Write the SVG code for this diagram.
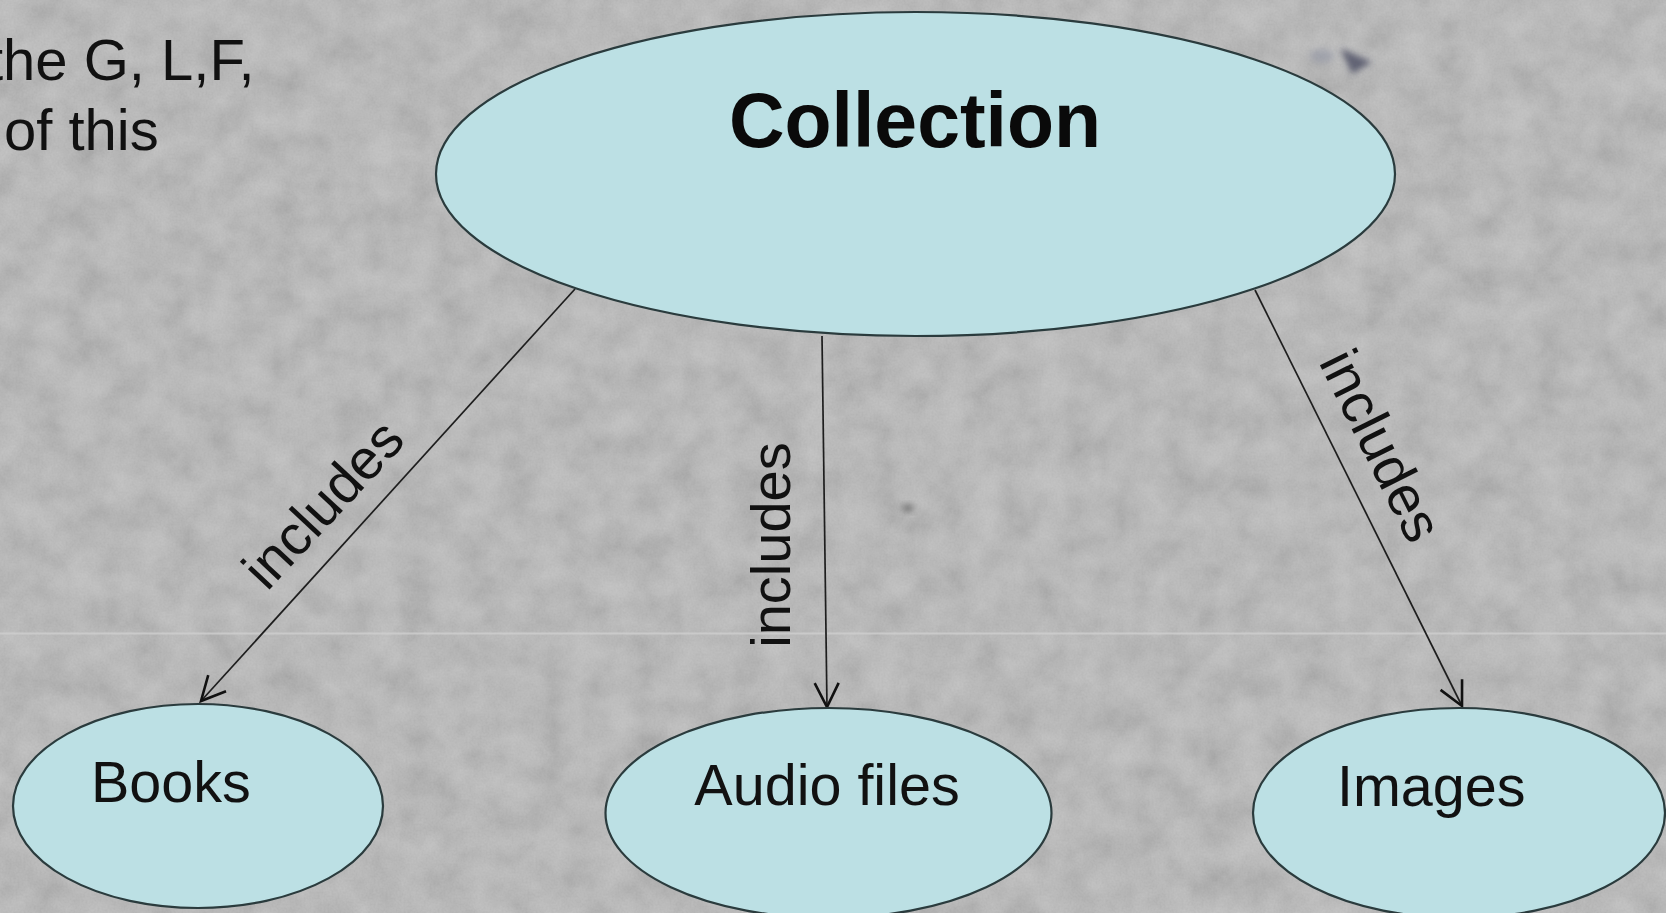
<svg xmlns="http://www.w3.org/2000/svg" width="1666" height="913" viewBox="0 0 1666 913">
  <style>
    .node { fill: #bce0e4; stroke: #2a3b3d; stroke-width: 2.2; }
    .label { font-family: "Liberation Sans", Arial, sans-serif; fill: #111; }
    .title { font-family: "Liberation Sans", Arial, sans-serif; font-weight: bold; fill: #0a0a0a; font-size: 77px; }
    .nodetext { font-size: 57.5px; }
    .edge { stroke: #1e1e1e; stroke-width: 1.7; fill: none; marker-end: url(#arrow); }
    .edgetext { font-family: "Liberation Sans", Arial, sans-serif; font-size: 56px; fill: #111; text-anchor: middle; }
  </style>
  <defs>
    <!-- open V arrowhead -->
    <marker id="arrow" markerUnits="userSpaceOnUse" markerWidth="40" markerHeight="40" viewBox="-30 -20 40 40" refX="0" refY="0" orient="auto">
      <path d="M -24 -12 L 0 0 L -24 12" fill="none" stroke="#111" stroke-width="2.6" stroke-linejoin="miter"/>
    </marker>
    <!-- concrete-like grain for the backdrop -->
    <filter id="grain" x="0" y="0" width="100%" height="100%" filterUnits="userSpaceOnUse">
      <feTurbulence type="fractalNoise" baseFrequency="0.03" numOctaves="4" seed="11" result="n"/>
      <feColorMatrix in="n" type="matrix" values="1 0 0 0 0.17  1 0 0 0 0.17  1 0 0 0 0.17  0 0 0 0 1"/>
    </filter>
    <filter id="fine" x="0" y="0" width="100%" height="100%" filterUnits="userSpaceOnUse">
      <feTurbulence type="fractalNoise" baseFrequency="0.5" numOctaves="2" seed="3" result="n"/>
      <feColorMatrix in="n" type="matrix" values="1 0 0 0 0.15  1 0 0 0 0.15  1 0 0 0 0.15  0 0 0 0 1"/>
    </filter>
    <filter id="soft" x="-50%" y="-50%" width="200%" height="200%">
      <feGaussianBlur stdDeviation="3"/>
    </filter>
  </defs>

  <!-- backdrop -->
  <g id="backdrop">
    <rect width="1666" height="913" fill="#aeaeae"/>
    <rect width="1666" height="913" filter="url(#grain)" opacity="0.22"/>
    <rect width="1666" height="913" filter="url(#fine)" opacity="0.07"/>
    <line x1="0" y1="633.5" x2="1666" y2="633.5" stroke="#cfcfcf" stroke-width="2" opacity="0.8"/>
    <path d="M1340 48 L1372 62 L1352 74 Z" fill="#3c3f58" opacity="0.7" filter="url(#soft)"/>
    <ellipse cx="1322" cy="56" rx="12" ry="7" fill="#8a8fa0" opacity="0.5" filter="url(#soft)"/>
    <ellipse cx="908" cy="508" rx="6" ry="4" fill="#4a4a4a" opacity="0.6" filter="url(#soft)"/>
  </g>

  <!-- partially visible caption text -->
  <g id="caption" class="label" font-size="58">
    <text x="-13" y="80">the G, L,F,</text>
    <text x="4" y="150">of this</text>
  </g>

  <!-- connectors -->
  <g id="connectors">
    <line class="edge" x1="575" y1="289" x2="201" y2="701"/>
    <line class="edge" x1="822" y1="336" x2="827" y2="707"/>
    <line class="edge" x1="1255" y1="290" x2="1462" y2="706"/>
    <text class="edgetext" transform="translate(337,517) rotate(-47)">includes</text>
    <text class="edgetext" transform="translate(790,545) rotate(-90)">includes</text>
    <text class="edgetext" transform="translate(1364,454) rotate(63.5)">includes</text>
  </g>

  <!-- nodes -->
  <g id="collection">
    <ellipse class="node" cx="915.5" cy="174" rx="479.5" ry="162"/>
    <text class="title" x="915" y="147" text-anchor="middle">Collection</text>
  </g>
  <g id="books">
    <ellipse class="node" cx="198" cy="806" rx="185" ry="102"/>
    <text class="label nodetext" x="91" y="802">Books</text>
  </g>
  <g id="audio-files">
    <ellipse class="node" cx="828.5" cy="813" rx="223" ry="105"/>
    <text class="label nodetext" x="827" y="805" text-anchor="middle">Audio files</text>
  </g>
  <g id="images">
    <ellipse class="node" cx="1459" cy="813" rx="206" ry="105"/>
    <text class="label nodetext" x="1337" y="806">Images</text>
  </g>
</svg>
